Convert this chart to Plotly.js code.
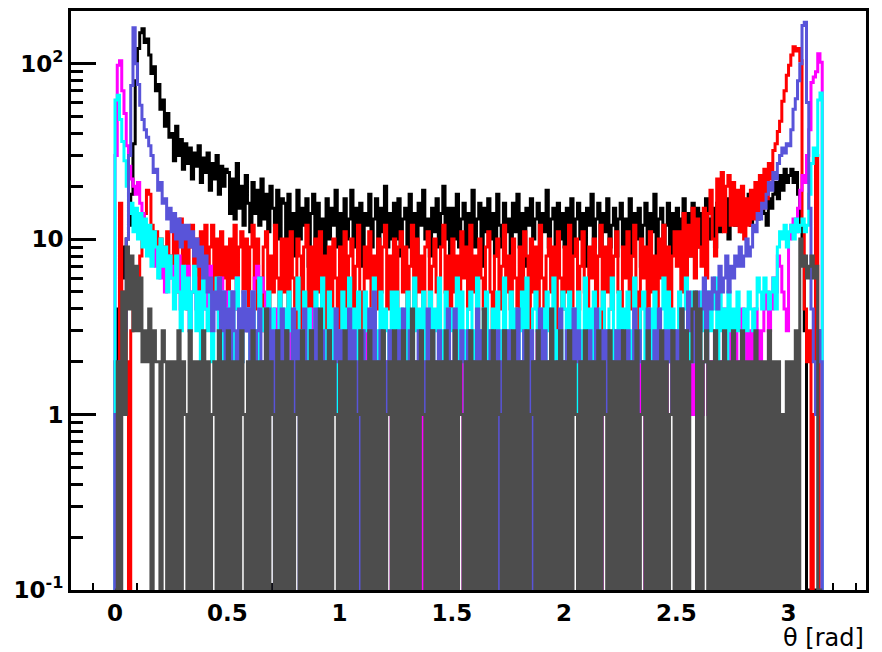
<!DOCTYPE html>
<html>
<head>
<meta charset="utf-8">
<script src="https://cdn.plot.ly/plotly-3.0.1.min.js"></script>
<style>
  html, body { margin: 0; padding: 0; background: #fff; }
  #chart { width: 882px; height: 652px; }
</style>
</head>
<body>
<div id="chart"></div>
<script>
// Histograms of the polar angle theta, 0.01 rad bins from 0 to pi (315 bins).
const BIN_WIDTH = 0.01;

const blackCounts = [
  2,4,8,6,9,10,12,18,35,80,122,150,158,132,138,112,88,96,70,76,55,62,44,52,38,
  40,28,44,30,37,25,35,27,33,22,31,26,34,21,29,24,31,19,27,22,30,18,26,20,25,
  24,14,22,13,27,15,20,12,23,16,11,21,14,19,12,22,13,18,11,20,15,12,19,10,17,
  16,9,18,11,14,8,19,10,15,12,17,7,14,18,9,16,11,13,8,17,10,15,12,19,9,
  14,8,17,10,13,19,9,15,11,16,7,14,12,18,9,13,17,8,15,11,20,9,14,10,16,
  10,17,8,13,15,9,18,11,14,7,16,12,19,10,13,8,15,11,17,9,14,20,10,15,8,
  15,10,18,9,13,16,8,14,11,19,9,13,16,7,15,11,17,10,14,8,18,12,9,16,11,
  13,8,16,11,18,9,14,7,15,12,17,10,13,16,8,14,11,19,9,13,15,8,16,10,14,
  9,15,11,17,8,13,16,10,14,7,15,12,18,9,13,16,8,14,11,17,9,12,15,8,13,
  16,9,13,11,17,8,14,10,15,7,12,16,9,14,11,18,8,13,15,9,12,16,8,14,10,
  15,9,13,17,10,14,8,16,12,15,9,14,11,17,10,13,15,9,16,11,14,12,17,10,15,
  15,12,17,13,11,16,14,18,12,15,17,13,16,19,14,12,17,15,18,21,17,23,19,25,21,
  23,25,21,24,18,12,8,3,0,0,0,0,0,0,0
];

const redCounts = [
  0,0,16,3,5,2,0,3,4,6,5,8,10,14,19,18,12,9,11,8,10,7,9,11,8,
  7,12,5,10,13,6,11,4,9,12,5,10,4,11,7,12,4,9,12,5,10,4,11,6,9,
  4,10,6,12,4,9,11,5,10,3,9,12,4,10,6,3,9,11,4,8,5,12,6,3,10,
  5,10,4,11,6,3,10,8,3,9,12,4,9,3,10,5,11,4,8,3,9,4,10,6,3,
  9,4,11,4,8,10,3,7,12,5,3,9,6,11,4,8,4,10,5,9,12,4,8,5,10,
  4,9,11,5,9,4,7,12,4,10,5,8,3,9,11,4,7,10,5,3,9,12,5,8,4,
  10,5,8,3,11,6,9,4,12,5,8,3,10,6,4,9,11,5,3,8,10,4,7,12,5,
  8,4,10,6,3,9,5,11,8,3,10,5,9,4,12,6,3,8,10,5,9,3,11,6,4,
  9,5,12,4,8,10,4,7,11,5,3,9,6,10,4,8,12,3,9,5,10,4,8,11,5,
  4,9,6,11,4,8,12,5,3,10,6,9,4,11,5,8,3,10,6,12,5,9,4,8,11,
  7,11,5,14,6,12,8,15,6,13,9,7,15,6,14,19,10,8,22,12,24,11,20,23,12,
  21,12,19,11,20,10,17,12,19,13,21,14,23,15,25,17,27,22,32,35,41,47,61,70,86,
  98,112,125,118,122,104,12,4,2,3,0,1,30,3,0
];

const magentaCounts = [
  30,98,104,70,52,34,26,22,20,18,21,16,14,12,10,11,8,9,7,8,6,7,5,8,6,
  7,5,6,8,4,6,5,7,3,5,6,4,5,3,6,4,5,7,3,4,5,3,6,4,5,
  4,3,5,4,6,3,4,5,3,4,3,5,6,7,5,6,5,2,4,3,2,4,3,2,3,
  2,1,3,0,2,1,2,3,1,0,2,1,4,2,1,0,2,3,1,2,0,1,2,1,3,
  1,2,0,1,3,2,1,0,2,1,2,3,1,0,1,2,1,2,0,3,1,2,1,0,2,
  2,1,0,2,1,3,1,2,0,1,2,1,0,2,3,1,2,1,0,1,2,0,1,3,1,
  0,2,1,1,3,0,2,1,2,0,1,2,3,1,0,2,1,1,2,0,3,1,2,0,1,
  2,0,1,3,1,2,0,1,2,1,0,2,1,3,0,1,2,1,0,2,1,1,3,0,2,
  1,2,0,1,2,3,1,0,2,1,1,0,2,1,3,2,0,1,2,1,0,2,1,3,1,
  2,1,0,2,1,1,3,0,2,1,2,0,1,2,1,3,0,1,2,0,1,2,3,1,2,
  1,2,0,3,2,1,2,1,3,0,2,1,2,3,1,2,0,3,2,1,2,4,1,3,2,
  2,3,1,2,4,2,3,1,3,2,4,3,2,3,4,5,3,4,6,5,8,7,5,4,3,
  10,12,13,11,15,19,23,21,30,42,78,84,90,114,102
];

const blueCounts = [
  1,0,2,1,3,10,30,75,160,100,76,58,48,42,38,34,30,24,25,19,21,16,17,13,15,
  11,14,10,13,9,12,10,12,9,11,8,10,7,9,6,8,5,6,3,5,4,6,3,5,2,
  4,2,5,3,1,4,2,5,3,4,1,5,2,3,4,0,2,3,4,1,3,0,3,2,4,
  2,3,0,2,4,1,3,0,2,4,1,2,3,0,4,1,2,3,2,0,3,2,1,4,2,
  3,0,2,2,4,1,3,2,0,2,3,1,2,4,0,5,1,2,3,0,2,1,3,2,0,
  1,3,2,4,0,1,3,2,2,0,3,2,1,2,4,0,3,1,2,3,0,2,2,4,1,
  2,4,0,2,3,2,0,3,2,1,2,4,0,3,1,2,0,3,1,2,3,0,2,3,2,
  3,1,0,2,4,0,2,3,2,1,3,0,2,1,4,2,3,0,2,3,1,0,2,4,1,
  2,3,0,1,4,2,3,0,2,2,0,3,2,1,4,0,2,3,1,3,0,2,1,3,2,
  3,0,2,3,2,1,4,0,3,2,1,2,4,0,2,3,1,4,2,0,3,2,3,1,2,
  3,2,4,2,3,5,3,4,2,5,3,4,6,3,5,4,6,5,4,7,5,6,8,5,7,
  6,8,7,9,7,8,10,8,9,12,11,14,13,16,15,18,21,19,24,22,27,30,33,31,35,
  34,42,55,63,80,100,165,172,60,15,4,2,1,3,2
];

const cyanCounts = [
  62,66,48,36,28,20,14,16,11,15,10,14,9,13,8,12,7,11,9,6,10,7,9,5,8,
  6,4,8,5,3,7,4,6,3,5,7,3,5,2,6,4,3,5,2,4,6,3,5,2,4,
  3,5,2,4,6,3,2,5,3,4,0,5,3,2,6,3,4,2,5,3,4,1,3,5,2,
  4,2,5,3,1,4,6,2,3,5,2,4,3,1,5,2,4,6,2,3,5,2,4,1,3,
  2,5,3,4,6,2,4,0,5,3,2,5,3,2,4,6,2,3,5,1,4,3,2,5,3,
  5,2,4,3,1,5,3,2,6,3,4,2,5,1,3,5,2,4,3,6,2,3,5,2,4,
  3,4,6,2,5,3,0,4,5,2,3,6,3,2,4,5,1,3,4,2,5,3,2,6,3,
  2,5,3,4,1,3,5,2,6,3,2,4,5,3,1,4,2,5,3,4,6,2,3,2,5,
  4,2,5,3,4,1,5,3,2,6,3,4,2,5,3,0,4,5,2,3,4,6,2,3,5,
  3,4,2,5,0,3,6,3,2,4,5,2,3,4,1,5,3,2,4,6,2,5,3,4,2,
  3,5,2,4,6,3,2,5,3,4,1,5,3,2,5,3,4,6,2,5,3,4,2,5,3,
  4,3,5,3,2,4,3,5,4,3,4,6,5,4,6,5,4,5,6,4,9,11,10,12,9,
  11,12,10,13,11,12,13,11,12,18,27,33,30,62,68
];

const grayCounts = [
  0,2,0,5,1,9,4,8,3,7,3,6,2,3,2,4,0,3,2,2,0,3,2,0,2,
  0,2,0,3,0,2,1,0,3,0,2,0,2,0,3,0,2,0,1,2,0,3,0,2,0,
  3,0,2,0,2,0,3,1,0,2,0,3,0,2,0,2,0,4,0,2,1,0,3,0,2,
  0,3,0,2,0,1,2,0,3,0,2,0,3,0,2,0,4,0,2,0,3,0,2,1,0,
  2,0,3,0,2,0,2,0,1,3,0,2,0,3,0,2,0,2,0,3,0,1,2,0,3,
  0,2,0,3,0,2,0,4,0,2,0,3,1,0,2,0,3,0,2,0,2,0,3,0,2,
  0,3,0,2,1,0,2,0,3,0,2,0,2,0,4,0,2,0,3,0,2,1,0,3,0,
  2,0,3,0,2,0,2,0,3,0,1,2,0,3,0,2,0,2,0,4,0,2,0,3,0,
  2,0,3,0,2,1,0,2,0,3,0,2,0,2,0,3,0,2,1,0,3,0,2,0,2,
  0,3,0,2,0,2,0,3,0,1,2,0,3,0,2,0,2,0,3,0,2,0,1,3,0,
  2,0,4,0,3,0,2,4,5,0,4,0,2,3,0,2,0,3,0,2,0,3,0,2,0,
  3,0,2,0,3,0,2,0,2,0,3,0,2,0,2,0,3,0,2,0,2,0,1,0,2,
  0,2,0,3,0,10,7,8,6,7,8,6,7,0,0
];

const xTickVals = [0, 0.5, 1, 1.5, 2, 2.5, 3];
const xTickText = ['0', '0.5', '1', '1.5', '2', '2.5', '3'];
const yTickVals = [0.1, 1, 10, 100];
const yTickText = ['10<sup>-1</sup>', '1', '10', '10<sup>2</sup>'];
const yMinorVals = [0.2,0.3,0.4,0.5,0.6,0.7,0.8,0.9, 2,3,4,5,6,7,8,9, 20,30,40,50,60,70,80,90];

// Lowest value on the log axis; empty bins are drawn down to it.
const Y_MIN = 0.1;

// Build an outline histogram: a step line over the bin edges,
// closed down to the axis floor at both ends.
function histTrace(counts, color) {
  const x = [0];
  const y = [Y_MIN];
  counts.forEach((c, i) => {
    x.push(i * BIN_WIDTH);
    y.push(c > 0 ? c : Y_MIN);
  });
  const last = counts[counts.length - 1];
  const end = counts.length * BIN_WIDTH;
  x.push(end); y.push(last > 0 ? last : Y_MIN);
  x.push(end); y.push(Y_MIN);
  return {
    type: 'scatter', mode: 'lines', x: x, y: y,
    line: { shape: 'hv', color: color, width: 3 },
    hoverinfo: 'skip', showlegend: false
  };
}

// Drawing order: later histograms are painted over earlier ones.
const traces = [
  histTrace(blackCounts, '#000000'),
  histTrace(redCounts, '#ff0000'),
  histTrace(magentaCounts, '#ff00ff'),
  histTrace(cyanCounts, '#00ffff'),
  histTrace(blueCounts, 'rgb(89,84,217)'),
  histTrace(grayCounts, '#4d4d4d')
];

const tickFont = { family: 'DejaVu Sans', size: 23, color: '#000', weight: 'bold' };

const layout = {
  width: 882, height: 652,
  margin: { l: 71, r: 16, t: 11, b: 62 },
  paper_bgcolor: '#ffffff', plot_bgcolor: '#ffffff',
  showlegend: false,
  xaxis: {
    range: [-0.196, 3.345],
    tickmode: 'array', tickvals: xTickVals, ticktext: xTickText,
    ticks: 'inside', ticklen: 14, tickwidth: 2, tickcolor: '#000',
    minor: { tick0: 0, dtick: 0.1, ticks: 'inside', ticklen: 7, tickwidth: 2, tickcolor: '#000' },
    showline: true, linecolor: '#000', linewidth: 3, mirror: true,
    showgrid: false, zeroline: false, layer: 'below traces',
    tickfont: tickFont, fixedrange: true
  },
  yaxis: {
    type: 'log', range: [-1, 2.3],
    tickmode: 'array', tickvals: yTickVals, ticktext: yTickText,
    ticks: 'inside', ticklen: 25, tickwidth: 3, tickcolor: '#000',
    minor: { tickmode: 'array', tickvals: yMinorVals, ticks: 'inside', ticklen: 12, tickwidth: 3, tickcolor: '#000' },
    showline: true, linecolor: '#000', linewidth: 3, mirror: true,
    showgrid: false, zeroline: false,
    tickfont: tickFont, fixedrange: true
  },
  annotations: [{
    text: 'θ [rad]', xref: 'paper', yref: 'paper',
    x: 1, y: -0.083, xanchor: 'right', yanchor: 'middle',
    showarrow: false,
    font: { family: 'DejaVu Sans', size: 24, color: '#000' }
  }]
};

Plotly.newPlot('chart', traces, layout, { staticPlot: true, displayModeBar: false });
</script>
</body>
</html>
